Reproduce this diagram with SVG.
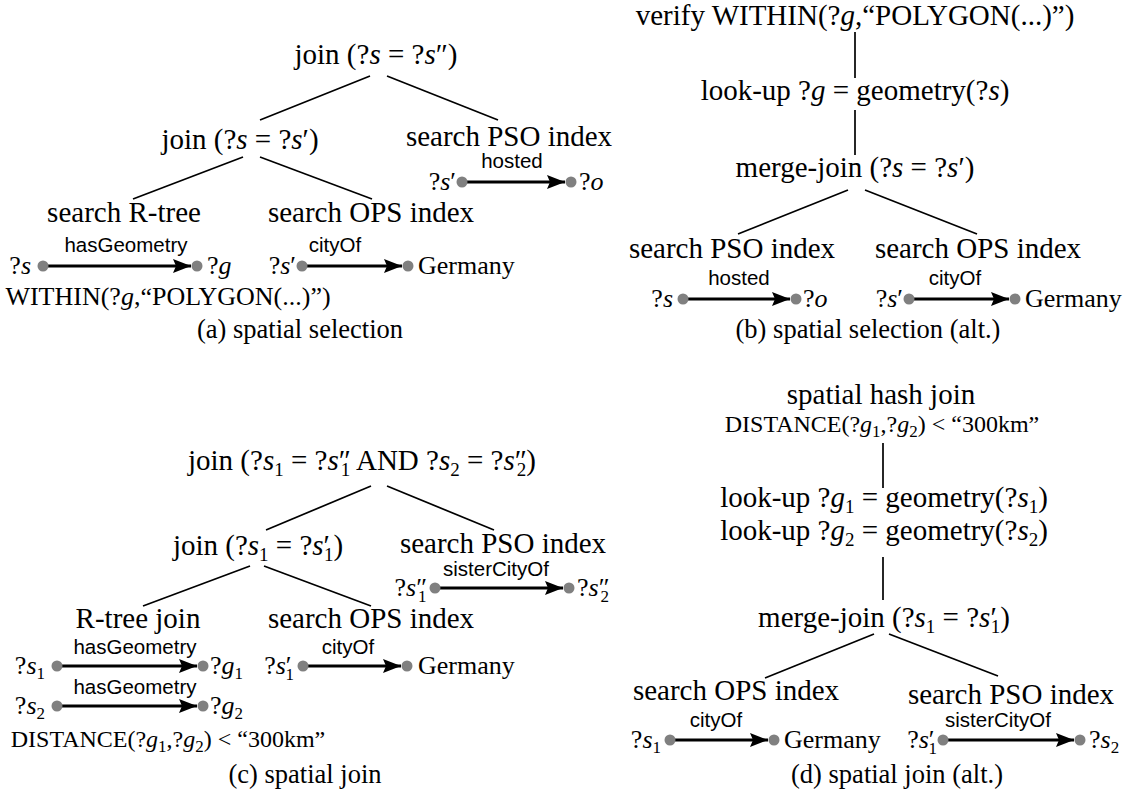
<svg xmlns="http://www.w3.org/2000/svg" width="1134" height="796" viewBox="0 0 1134 796">
<style>
text{font-family:"Liberation Serif","Times New Roman",serif;fill:#000}
.t{font-size:29px;text-anchor:middle}
.lf{font-size:26px}
.e{text-anchor:end}
.m{text-anchor:middle}
.d{font-size:24px;text-anchor:middle}
.cap{font-size:26.5px;text-anchor:middle}
.i{font-style:italic}
.sb{font-size:19px}
.sbs{font-size:17px}
.lbl{font-family:"Liberation Sans",Arial,sans-serif;font-size:20.5px;text-anchor:middle}
.tree line{stroke:#000;stroke-width:1.7;fill:none}
.arr{stroke:#000;stroke-width:3;fill:none;marker-end:url(#ah)}
.dot{fill:#808080}
</style>
<defs>
<marker id="ah" markerUnits="userSpaceOnUse" markerWidth="20" markerHeight="16" refX="18" refY="7" orient="auto">
<path d="M0,0 L18,7 L0,14 L3,7 z" fill="#000"/>
</marker>
</defs>
<rect width="1134" height="796" fill="#fff"/>

<!-- connectors -->
<g id="connectors">
<g class="tree">
<!-- (a) -->
<line x1="370" y1="76" x2="260" y2="120"/>
<line x1="387" y1="76" x2="498" y2="120"/>
<line x1="243" y1="157" x2="133" y2="199"/>
<line x1="260" y1="157" x2="372" y2="199"/>
<!-- (b) -->
<line x1="855" y1="32" x2="855" y2="78"/>
<line x1="855" y1="110" x2="855" y2="155"/>
<line x1="848" y1="190" x2="738" y2="234"/>
<line x1="865" y1="190" x2="977" y2="234"/>
<!-- (c) -->
<line x1="371" y1="486" x2="266" y2="530"/>
<line x1="387" y1="486" x2="494" y2="530"/>
<line x1="250" y1="566" x2="143" y2="606"/>
<line x1="264" y1="566" x2="371" y2="606"/>
<!-- (d) -->
<line x1="883" y1="443" x2="883" y2="488"/>
<line x1="883" y1="557" x2="883" y2="600"/>
<line x1="874" y1="634" x2="765" y2="678"/>
<line x1="889" y1="634" x2="998" y2="676"/>
</g>
<!-- (a) arrows -->
<line class="arr" x1="462" y1="182" x2="565" y2="182"/>
<text class="lbl" x="512" y="168">hosted</text>
<line class="arr" x1="43" y1="266" x2="191" y2="266"/>
<text class="lbl" x="126" y="252">hasGeometry</text>
<line class="arr" x1="302" y1="266" x2="402" y2="266"/>
<text class="lbl" x="335" y="252">cityOf</text>
<!-- (b) arrows -->
<line class="arr" x1="683" y1="299" x2="790" y2="299"/>
<text class="lbl" x="739" y="285">hosted</text>
<line class="arr" x1="909" y1="299" x2="1009" y2="299"/>
<text class="lbl" x="955" y="285">cityOf</text>
<!-- (c) arrows -->
<line class="arr" x1="435" y1="588" x2="563" y2="588"/>
<text class="lbl" x="496" y="576">sisterCityOf</text>
<line class="arr" x1="57" y1="666" x2="197" y2="666"/>
<text class="lbl" x="135" y="654">hasGeometry</text>
<line class="arr" x1="303" y1="666" x2="401" y2="666"/>
<text class="lbl" x="348" y="654">cityOf</text>
<line class="arr" x1="57" y1="706" x2="197" y2="706"/>
<text class="lbl" x="135" y="694">hasGeometry</text>
<!-- (d) arrows -->
<line class="arr" x1="670" y1="740" x2="768" y2="740"/>
<text class="lbl" x="716" y="727">cityOf</text>
<line class="arr" x1="943" y1="740" x2="1074" y2="740"/>
<text class="lbl" x="998" y="727">sisterCityOf</text>
</g>

<!-- ===== (a) spatial selection ===== -->
<g id="a-join-top"><text class="t" x="376" y="64">join (?<tspan class="i">s</tspan> = ?<tspan class="i">s</tspan>″)</text></g>
<g id="a-join-mid"><text class="t" x="240" y="149">join (?<tspan class="i">s</tspan> = ?<tspan class="i">s</tspan>′)</text></g>
<g id="a-search-pso"><text class="t" x="509" y="146">search PSO index</text></g>
<g id="a-search-rtree"><text class="t" x="124" y="222">search R-tree</text></g>
<g id="a-search-ops"><text class="t" x="371" y="222">search OPS index</text></g>
<g id="a-v-s2"><circle class="dot" cx="462" cy="182" r="5.5"/><text class="lf e" x="456" y="190">?<tspan class="i">s</tspan>′</text></g>
<g id="a-v-o"><circle class="dot" cx="571" cy="182" r="5.5"/><text class="lf" x="579" y="190">?<tspan class="i">o</tspan></text></g>
<g id="a-v-s"><circle class="dot" cx="43" cy="266" r="5.5"/><text class="lf e" x="31" y="274">?<tspan class="i">s</tspan></text></g>
<g id="a-v-g"><circle class="dot" cx="197" cy="266" r="5.5"/><text class="lf" x="207" y="274">?<tspan class="i">g</tspan></text></g>
<g id="a-v-s1"><circle class="dot" cx="302" cy="266" r="5.5"/><text class="lf e" x="296" y="274">?<tspan class="i">s</tspan>′</text></g>
<g id="a-v-germany"><circle class="dot" cx="408" cy="266" r="5.5"/><text class="lf" x="418" y="274">Germany</text></g>
<g id="a-within"><text class="lf m" x="168" y="305">WITHIN(?<tspan class="i">g</tspan>,“POLYGON(...)”)</text></g>
<g id="a-caption"><text class="cap" x="300" y="338">(a) spatial selection</text></g>

<!-- ===== (b) spatial selection (alt.) ===== -->
<g id="b-verify"><text class="t" x="855" y="25">verify WITHIN(?<tspan class="i">g</tspan>,“POLYGON(...)”)</text></g>
<g id="b-lookup"><text class="t" x="855" y="100">look-up ?<tspan class="i">g</tspan> = geometry(?<tspan class="i">s</tspan>)</text></g>
<g id="b-merge"><text class="t" x="855" y="177">merge-join (?<tspan class="i">s</tspan> = ?<tspan class="i">s</tspan>′)</text></g>
<g id="b-search-pso"><text class="t" x="732" y="258">search PSO index</text></g>
<g id="b-search-ops"><text class="t" x="978" y="258">search OPS index</text></g>
<g id="b-v-s"><circle class="dot" cx="683" cy="299" r="5.5"/><text class="lf e" x="673" y="307">?<tspan class="i">s</tspan></text></g>
<g id="b-v-o"><circle class="dot" cx="796" cy="299" r="5.5"/><text class="lf" x="803" y="307">?<tspan class="i">o</tspan></text></g>
<g id="b-v-s1"><circle class="dot" cx="909" cy="299" r="5.5"/><text class="lf e" x="903" y="307">?<tspan class="i">s</tspan>′</text></g>
<g id="b-v-germany"><circle class="dot" cx="1015" cy="299" r="5.5"/><text class="lf" x="1025" y="307">Germany</text></g>
<g id="b-caption"><text class="cap" x="868" y="338">(b) spatial selection (alt.)</text></g>

<!-- ===== (c) spatial join ===== -->
<g id="c-join-top"><text class="t" x="362" y="470">join (?<tspan class="i">s</tspan><tspan class="sb" dy="6">1</tspan><tspan dy="-6"> = ?</tspan><tspan class="i">s</tspan>″<tspan class="sb" dx="-10" dy="6">1</tspan><tspan dy="-6"> AND ?</tspan><tspan class="i">s</tspan><tspan class="sb" dy="6">2</tspan><tspan dy="-6"> = ?</tspan><tspan class="i">s</tspan>″<tspan class="sb" dx="-10" dy="6">2</tspan><tspan dy="-6">)</tspan></text></g>
<g id="c-join-mid"><text class="t" x="258" y="555">join (?<tspan class="i">s</tspan><tspan class="sb" dy="6">1</tspan><tspan dy="-6"> = ?</tspan><tspan class="i">s</tspan>′<tspan class="sb" dx="-6" dy="6">1</tspan><tspan dy="-6">)</tspan></text></g>
<g id="c-search-pso"><text class="t" x="503" y="553">search PSO index</text></g>
<g id="c-rtree"><text class="t" x="138" y="628">R-tree join</text></g>
<g id="c-search-ops"><text class="t" x="371" y="628">search OPS index</text></g>
<g id="c-v-s1pp"><circle class="dot" cx="435" cy="588" r="5.5"/><text class="lf e" x="427" y="596">?<tspan class="i">s</tspan>″<tspan class="sbs" dx="-9" dy="6">1</tspan></text></g>
<g id="c-v-s2pp"><circle class="dot" cx="569" cy="588" r="5.5"/><text class="lf" x="577" y="596">?<tspan class="i">s</tspan>″<tspan class="sbs" dx="-9" dy="6">2</tspan></text></g>
<g id="c-v-s1"><circle class="dot" cx="57" cy="666" r="5.5"/><text class="lf e" x="45" y="674">?<tspan class="i">s</tspan><tspan class="sbs" dy="5">1</tspan></text></g>
<g id="c-v-g1"><circle class="dot" cx="203" cy="666" r="5.5"/><text class="lf" x="210" y="674">?<tspan class="i">g</tspan><tspan class="sbs" dy="5">1</tspan></text></g>
<g id="c-v-s1p"><circle class="dot" cx="303" cy="666" r="5.5"/><text class="lf e" x="294" y="674">?<tspan class="i">s</tspan>′<tspan class="sbs" dx="-6" dy="6">1</tspan></text></g>
<g id="c-v-germany"><circle class="dot" cx="407" cy="666" r="5.5"/><text class="lf" x="418" y="674">Germany</text></g>
<g id="c-v-s2"><circle class="dot" cx="57" cy="706" r="5.5"/><text class="lf e" x="45" y="714">?<tspan class="i">s</tspan><tspan class="sbs" dy="5">2</tspan></text></g>
<g id="c-v-g2"><circle class="dot" cx="203" cy="706" r="5.5"/><text class="lf" x="210" y="714">?<tspan class="i">g</tspan><tspan class="sbs" dy="5">2</tspan></text></g>
<g id="c-distance"><text class="d" x="168" y="747">DISTANCE(?<tspan class="i">g</tspan><tspan class="sbs" dy="5">1</tspan><tspan dy="-5">,?</tspan><tspan class="i">g</tspan><tspan class="sbs" dy="5">2</tspan><tspan dy="-5">) &lt; “300km”</tspan></text></g>
<g id="c-caption"><text class="cap" x="305" y="783">(c) spatial join</text></g>

<!-- ===== (d) spatial join (alt.) ===== -->
<g id="d-hashjoin"><text class="t" x="881" y="404">spatial hash join</text><text class="d" x="882" y="432">DISTANCE(?<tspan class="i">g</tspan><tspan class="sbs" dy="5">1</tspan><tspan dy="-5">,?</tspan><tspan class="i">g</tspan><tspan class="sbs" dy="5">2</tspan><tspan dy="-5">) &lt; “300km”</tspan></text></g>
<g id="d-lookup"><text class="t" x="884" y="507">look-up ?<tspan class="i">g</tspan><tspan class="sb" dy="6">1</tspan><tspan dy="-6"> = geometry(?</tspan><tspan class="i">s</tspan><tspan class="sb" dy="6">1</tspan><tspan dy="-6">)</tspan></text><text class="t" x="884" y="540">look-up ?<tspan class="i">g</tspan><tspan class="sb" dy="6">2</tspan><tspan dy="-6"> = geometry(?</tspan><tspan class="i">s</tspan><tspan class="sb" dy="6">2</tspan><tspan dy="-6">)</tspan></text></g>
<g id="d-merge"><text class="t" x="884" y="627">merge-join (?<tspan class="i">s</tspan><tspan class="sb" dy="6">1</tspan><tspan dy="-6"> = ?</tspan><tspan class="i">s</tspan>′<tspan class="sb" dx="-6" dy="6">1</tspan><tspan dy="-6">)</tspan></text></g>
<g id="d-search-ops"><text class="t" x="736" y="700">search OPS index</text></g>
<g id="d-search-pso"><text class="t" x="1011" y="704">search PSO index</text></g>
<g id="d-v-s1"><circle class="dot" cx="670" cy="740" r="5.5"/><text class="lf e" x="661" y="748">?<tspan class="i">s</tspan><tspan class="sbs" dy="5">1</tspan></text></g>
<g id="d-v-germany"><circle class="dot" cx="774" cy="740" r="5.5"/><text class="lf" x="784" y="748">Germany</text></g>
<g id="d-v-s1p"><circle class="dot" cx="943" cy="740" r="5.5"/><text class="lf e" x="937" y="748">?<tspan class="i">s</tspan>′<tspan class="sbs" dx="-6" dy="6">1</tspan></text></g>
<g id="d-v-s2"><circle class="dot" cx="1080" cy="740" r="5.5"/><text class="lf" x="1089" y="748">?<tspan class="i">s</tspan><tspan class="sbs" dy="5">2</tspan></text></g>
<g id="d-caption"><text class="cap" x="897" y="783">(d) spatial join (alt.)</text></g>
</svg>
